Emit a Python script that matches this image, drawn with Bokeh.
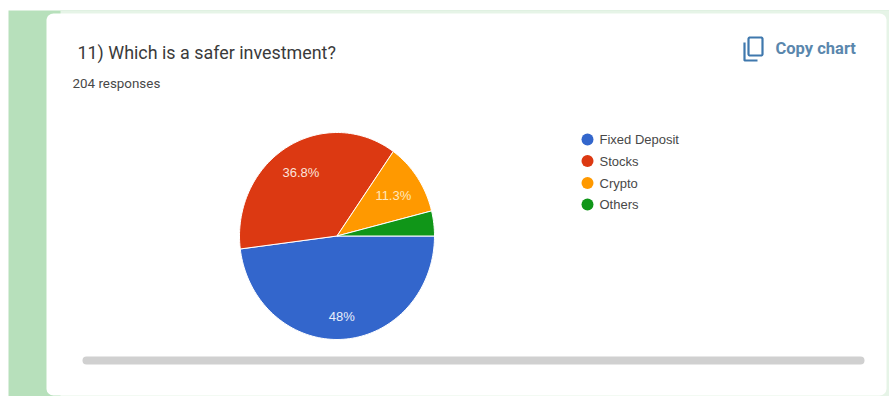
import math

from bokeh.core.properties import value
from bokeh.embed import file_html
from bokeh.models import ColumnDataSource, Range1d
from bokeh.plotting import figure
from bokeh.resources import INLINE

# Survey results
categories = ["Fixed Deposit", "Stocks", "Crypto", "Others"]
shares = [48.0, 36.8, 11.3, 3.9]
slice_labels = ["48%", "36.8%", "11.3%", ""]
colors = ["#3366cc", "#dc3912", "#ff9900", "#109618"]
label_colors = ["#e8eefa", "#fbe3dc", "#ffe8bd", "#ffffff"]
label_radii = [0.78, 0.72, 0.70, 0.8]
title = "11) Which is a safer investment?"
subtitle = "204 responses"
action = "Copy chart"

W, H = 889, 396
PIE_X, PIE_Y, PIE_RX, PIE_RY = 336.5, 235.5, 97.5, 103.5

p = figure(width=W, height=H, output_backend="svg", toolbar_location=None,
           x_range=Range1d(0, W), y_range=Range1d(H, 0), min_border=0,
           x_axis_location=None, y_axis_location=None,
           background_fill_color="white", outline_line_color=None)
p.grid.visible = False


def rounded_rect(x0, y0, x1, y1, r):
    """Outline of a rounded rectangle as two coordinate lists."""
    xs, ys = [], []
    corners = [(x1 - r, y0 + r, -90), (x1 - r, y1 - r, 0), (x0 + r, y1 - r, 90), (x0 + r, y0 + r, 180)]
    for cx, cy, start in corners:
        for k in range(9):
            a = math.radians(start + k * 90 / 8)
            xs.append(cx + r * math.cos(a))
            ys.append(cy + r * math.sin(a))
    return xs, ys


# Page band and card
p.quad(left=[8], right=[W], top=[10], bottom=[H], fill_color="#b7e0bb", line_color=None)
p.quad(left=[60], right=[W], top=[10], bottom=[H], fill_color="#e6f4e7", line_color=None)
cx, cy = rounded_rect(46, 13, 886, 395, 7)
p.patch(cx, cy, fill_color="white", line_color=None)

# Pie slices run clockwise from three o'clock
start = 0.0
for share, color in zip(shares, colors):
    sweep = share / 100 * 2 * math.pi
    steps = max(8, int(share * 2))
    xs, ys = [PIE_X], [PIE_Y]
    for k in range(steps + 1):
        a = start + sweep * k / steps
        xs.append(PIE_X + PIE_RX * math.cos(a))
        ys.append(PIE_Y + PIE_RY * math.sin(a))
    p.patch(xs, ys, fill_color=color, line_color="white", line_width=1)
    start += sweep

# Percentage labels inside the slices
lx, ly = [], []
start = 0.0
for share, radial in zip(shares, label_radii):
    sweep = share / 100 * 2 * math.pi
    mid = start + sweep / 2
    lx.append(PIE_X + radial * PIE_RX * math.cos(mid))
    ly.append(PIE_Y + radial * PIE_RY * math.sin(mid))
    start += sweep
p.text(lx, ly, text=slice_labels, text_color=label_colors, text_font=value("Liberation Sans"),
       text_font_size="13px", text_align="center", text_baseline="middle")

# Legend
legend_y = [139, 160.5, 182.5, 204]
legend = ColumnDataSource(dict(x=[587] * 4, tx=[599] * 4, y=legend_y, name=categories, color=colors))
p.scatter("x", "y", source=legend, size=12, fill_color="color", line_color=None)
p.text("tx", "y", text="name", source=legend, text_color="#484848",
       text_font=value("Liberation Sans"), text_font_size="13px", text_baseline="middle")

# Headings
p.text([77], [52], text=[title], text_color="#3a3a3a", text_font=value("Roboto"),
       text_font_size="17.9px", text_baseline="middle")
p.text([72], [83], text=[subtitle], text_color="#484848", text_font=value("Roboto"),
       text_font_size="13.4px", text_baseline="middle")

# Copy action with its two-page icon
p.text([775], [48], text=[action], text_color="#5a87ad", text_font=value("Roboto"),
       text_font_size="16.5px", text_font_style="bold", text_baseline="middle")
ix, iy = rounded_rect(748, 37, 762, 55, 1.5)
p.patch(ix, iy, fill_color=None, line_color="#3f78ad", line_width=2.2)
p.line([744, 744, 757], [42, 60, 60], line_color="#3f78ad", line_width=2.2)

# Horizontal scroll bar
p.line([86, 860], [360, 360], line_color="#d0d0d0", line_width=8, line_cap="round")

open("out.html", "w").write(file_html(p, INLINE))
